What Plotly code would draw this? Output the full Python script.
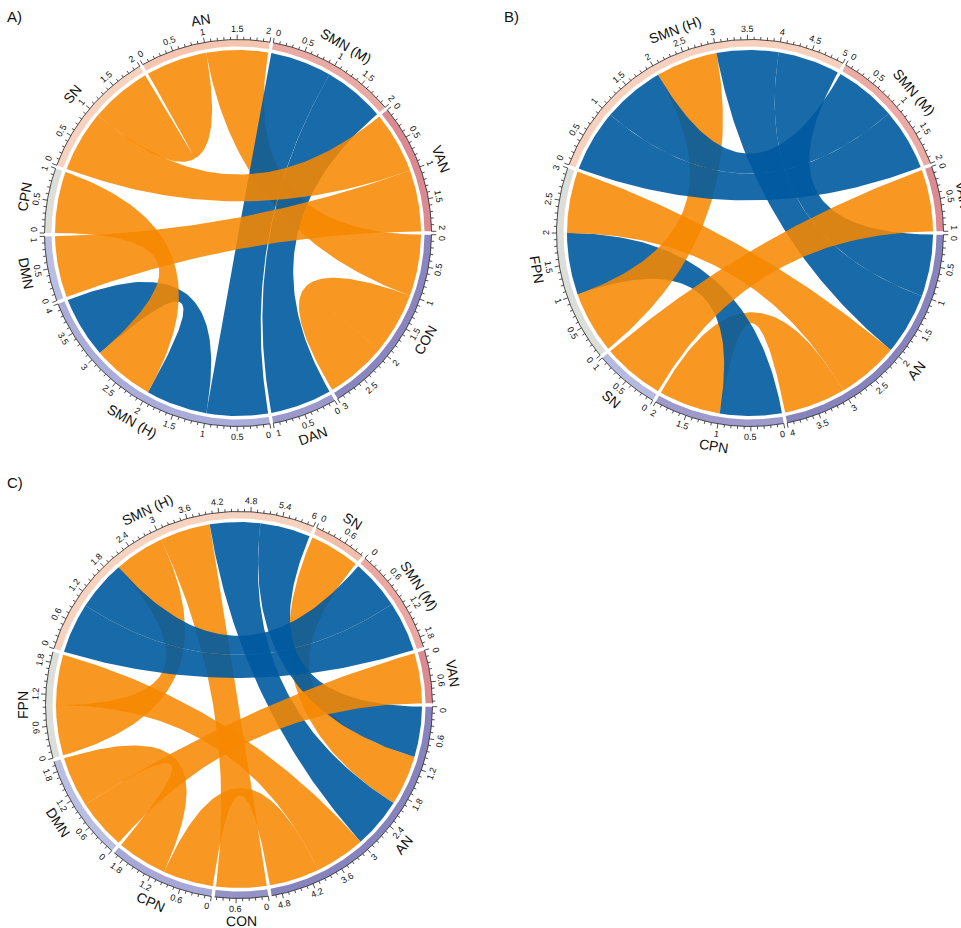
import numpy as np
import plotly.graph_objects as go

FIG_W, FIG_H = 961, 928
FONT = "Arial, Liberation Sans, sans-serif"

# ---------------- Panel A ----------------
A_SECTORS = ["CON", "DAN", "SMN (H)", "DMN", "CPN", "SN", "AN", "SMN (M)", "VAN"]
A_SIZES = [3, 1, 4, 1, 1, 2, 2, 2, 2]
A_TRACK = ["#8985BE", "#9B98CA", "#AAACD9", "#B9BEE3", "#DCDEDA",
           "#F7D3BF", "#F5C5AF", "#EAAAA4", "#DC8A92"]
# (sector, start, sector, start, width, sign)   +1 = orange, -1 = blue
A_LINKS = [
    ("AN", 1, "CON", 0, 1, 1),
    ("SMN (M)", 0, "SMN (H)", 0, 1, -1),
    ("SMN (M)", 1, "DAN", 0, 1, -1),
    ("SMN (H)", 1, "SMN (H)", 3, 1, -1),
    ("DMN", 0, "VAN", 1, 1, 1),
    ("SN", 0, "VAN", 0, 1, 1),
    ("SN", 1, "AN", 0, 1, 1),
    ("CPN", 0, "SMN (H)", 2, 1, 1),
    ("CON", 1, "CON", 2, 1, 1),
]
A_STEP = 0.5

# ---------------- Panel B ----------------
B_SECTORS = ["AN", "CPN", "SN", "FPN", "SMN (H)", "SMN (M)", "VAN"]
B_SIZES = [4, 2, 1, 3, 5, 2, 1]
B_TRACK = ["#8783BC", "#9E9BCC", "#B5BAE1", "#DCDEDA", "#F7D1BD", "#EBABA4", "#DC8A92"]
B_LINKS = [
    ("CPN", 1, "AN", 3, 1, 1),
    ("CPN", 0, "FPN", 1, 1, -1),
    ("SMN (H)", 2, "FPN", 0, 1, 1),
    ("SMN (H)", 3, "AN", 1, 1, -1),
    ("SMN (H)", 4, "AN", 0, 1, -1),
    ("SMN (H)", 0, "SMN (M)", 1, 1, -1),
    ("SMN (H)", 1, "SMN (M)", 0, 1, -1),
    ("FPN", 2, "AN", 2, 1, 1),
    ("VAN", 0, "SN", 0, 1, 1),
]
B_STEP = 0.5

# ---------------- Panel C ----------------
C_SECTORS = ["AN", "CON", "CPN", "DMN", "FPN", "SMN (H)", "SN", "SMN (M)", "VAN"]
C_SIZES = [5, 1, 2, 2, 2, 6, 1, 2, 1]
C_TRACK = ["#8783BC", "#9592C6", "#A7A8D7", "#B9BEE3", "#DCDEDA",
           "#F7D3BF", "#F3BEA9", "#EBA8A2", "#DC8A92"]
C_LINKS = [
    ("AN", 4, "CPN", 0, 1, 1),
    ("CPN", 1, "DMN", 1, 1, 1),
    ("SMN (H)", 3, "CON", 0, 1, 1),
    ("SMN (H)", 2, "FPN", 0, 1, 1),
    ("SN", 0, "AN", 1, 1, 1),
    ("SMN (H)", 4, "AN", 2, 1, -1),
    ("SMN (H)", 5, "AN", 0, 1, -1),
    ("SMN (H)", 0, "SMN (M)", 1, 1, -1),
    ("SMN (H)", 1, "SMN (M)", 0, 1, -1),
    ("FPN", 1, "AN", 3, 1, 1),
    ("VAN", 0, "DMN", 0, 1, 1),
]
C_STEP = 0.6

PANELS = [
    ("A)", (238, 233), A_SECTORS, A_SIZES, A_TRACK, A_LINKS, A_STEP, (14, 16)),
    ("B)", (750, 233), B_SECTORS, B_SIZES, B_TRACK, B_LINKS, B_STEP, (511, 16)),
    ("C)", (239, 705), C_SECTORS, C_SIZES, C_TRACK, C_LINKS, C_STEP, (15, 482)),
]

LINK_COLORS = {1: "rgba(247,136,0,0.87)", -1: "rgba(0,90,160,0.9)"}
GAP = 1.0
R_LINK = 183.0
R_TRACK_IN, R_TRACK_OUT = 186.5, 193.5
R_MINOR, R_MAJOR = 196.3, 198.3
R_TICKLAB = 204.0
R_NAME = 216.0
TICK_FONT = 9

fig = go.Figure()
annotations = []


def facing_angle(theta):
    """Rotation (deg, clockwise) of text tangent to the circle, kept readable."""
    t = theta % 360
    if 0 < t < 180:
        return t - 90
    return t - 270


def add_text(x, y, text, size, angle=0):
    annotations.append(dict(
        x=x / FIG_W, y=1 - y / FIG_H, xref="paper", yref="paper",
        text=text, showarrow=False, textangle=angle,
        xanchor="center", yanchor="middle",
        font=dict(family=FONT, size=size, color="#111111")))


def arc_pts(cx, cy, r, t0, t1, n=48):
    t = np.radians(np.linspace(t0, t1, n))
    return cx + r * np.cos(t), cy + r * np.sin(t)


def bezier_pts(p0, p2, c, n=80):
    t = np.linspace(0, 1, n)[:, None]
    pts = (1 - t) ** 2 * p0 + 2 * (1 - t) * t * c + t ** 2 * p2
    return pts[:, 0], pts[:, 1]


def fmt(v):
    if abs(v - round(v)) < 1e-9:
        return str(int(round(v)))
    return f"{v:.1f}"


def text_width(txt, size):
    return sum(0.28 * size if ch == "." else 0.556 * size for ch in txt)


for label, (cx, cy), sectors, sizes, track, links, step, lab_xy in PANELS:
    n = len(sectors)
    unit = (360 - n * GAP) / sum(sizes)
    starts = {}
    a = GAP / 2
    for s, sz in zip(sectors, sizes):
        starts[s] = a
        a += sz * unit + GAP

    def ang(sec, x):
        return starts[sec] + x * unit

    def pt(sec, x, r=R_LINK):
        t = np.radians(ang(sec, x))
        return np.array([cx + r * np.cos(t), cy + r * np.sin(t)])

    centre = np.array([cx, cy], dtype=float)

    # links: arc on the first sector, curve across, arc on the second, curve back
    for s1, p1, s2, p2, w, sign in links:
        xs, ys = [], []
        ax_, ay_ = arc_pts(cx, cy, R_LINK, ang(s1, p1), ang(s1, p1 + w))
        xs += list(ax_); ys += list(ay_)
        bx, by = bezier_pts(pt(s1, p1 + w), pt(s2, p2), centre)
        xs += list(bx); ys += list(by)
        ax_, ay_ = arc_pts(cx, cy, R_LINK, ang(s2, p2), ang(s2, p2 + w))
        xs += list(ax_); ys += list(ay_)
        bx, by = bezier_pts(pt(s2, p2 + w), pt(s1, p1), centre)
        xs += list(bx); ys += list(by)
        fig.add_trace(go.Scatter(
            x=xs, y=ys, mode="lines", fill="toself",
            fillcolor=LINK_COLORS[sign], line=dict(width=0, color="rgba(0,0,0,0)"),
            hoverinfo="skip", showlegend=False))

    # sector tracks, axis and labels
    tick_x, tick_y = [], []
    for s, sz, col in zip(sectors, sizes, track):
        t0, t1 = ang(s, 0), ang(s, sz)
        ox, oy = arc_pts(cx, cy, R_TRACK_OUT, t0, t1, 90)
        ix, iy = arc_pts(cx, cy, R_TRACK_IN, t1, t0, 90)
        fig.add_trace(go.Scatter(
            x=list(ox) + list(ix), y=list(oy) + list(iy), mode="lines",
            fill="toself", fillcolor=col, line=dict(width=0, color=col),
            hoverinfo="skip", showlegend=False))
        fig.add_trace(go.Scatter(
            x=ox, y=oy, mode="lines", line=dict(width=0.8, color="#222222"),
            hoverinfo="skip", showlegend=False))
        minor = step / 5
        k = 0
        while k * minor <= sz + 1e-9:
            v = k * minor
            th_deg = ang(s, v)
            th = np.radians(th_deg)
            major = (k % 5 == 0)
            r2 = R_MAJOR if major else R_MINOR
            tick_x += [cx + R_TRACK_OUT * np.cos(th), cx + r2 * np.cos(th), None]
            tick_y += [cy + R_TRACK_OUT * np.sin(th), cy + r2 * np.sin(th), None]
            if major:
                txt = fmt(v)
                # first / last labels of a sector are kept inside the sector
                half = text_width(txt, TICK_FONT) / 2 + 0.6
                shift = 0.0
                if v < 1e-9:
                    shift = half
                elif abs(v - sz) < 1e-9:
                    shift = -half
                th_lab = th_deg + np.degrees(shift / R_TICKLAB)
                tl = np.radians(th_lab)
                add_text(cx + R_TICKLAB * np.cos(tl), cy + R_TICKLAB * np.sin(tl),
                         txt, TICK_FONT, facing_angle(th_lab))
            k += 1
        mid = ang(s, sz / 2)
        th = np.radians(mid)
        add_text(cx + R_NAME * np.cos(th), cy + R_NAME * np.sin(th), s, 14, facing_angle(mid))
    fig.add_trace(go.Scatter(
        x=tick_x, y=tick_y, mode="lines", line=dict(width=0.8, color="#222222"),
        hoverinfo="skip", showlegend=False))

    add_text(lab_xy[0], lab_xy[1], label, 15)

fig.update_layout(
    width=FIG_W, height=FIG_H, margin=dict(l=0, r=0, t=0, b=0),
    paper_bgcolor="white", plot_bgcolor="white",
    xaxis=dict(range=[0, FIG_W], visible=False, fixedrange=True),
    yaxis=dict(range=[FIG_H, 0], visible=False, fixedrange=True),
    annotations=annotations, showlegend=False)

fig.write_html("out.html")
